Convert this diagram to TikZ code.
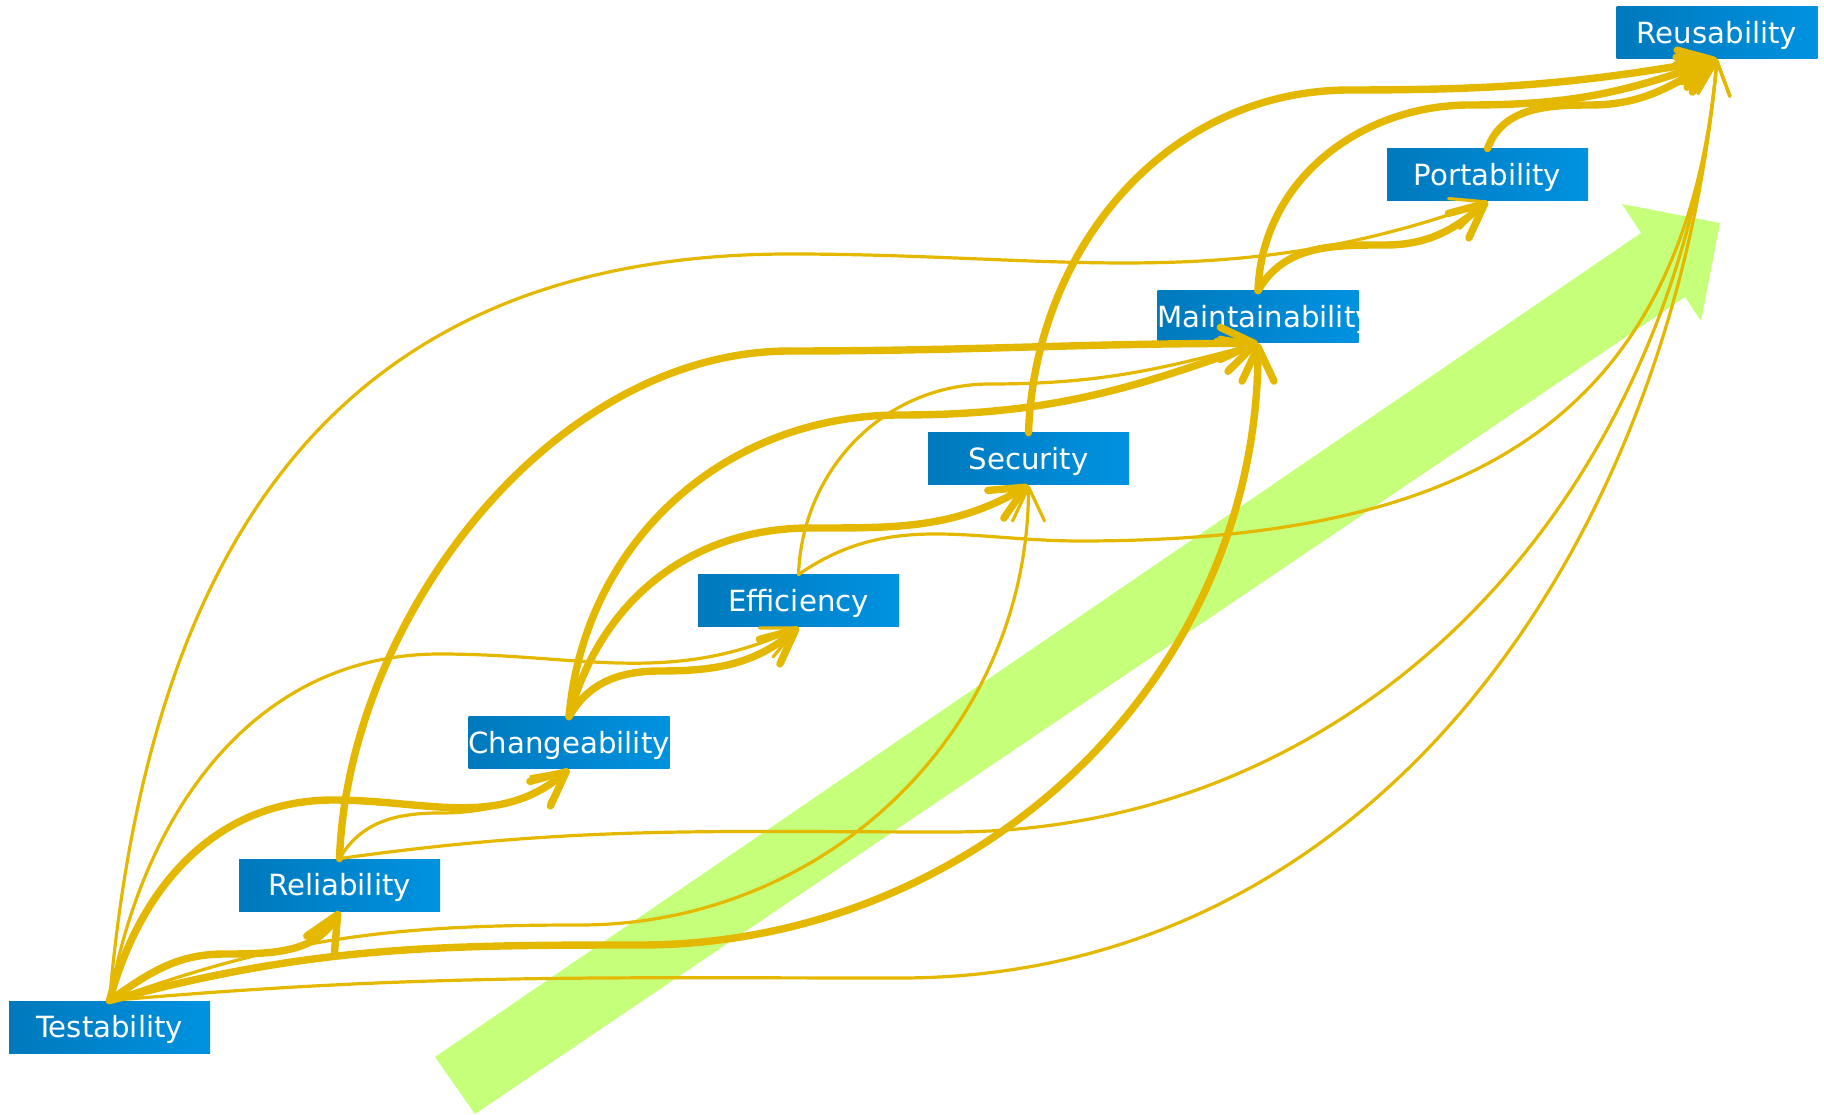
\documentclass[tikz,border=0pt]{standalone}
\usepackage{fontspec}
\setmainfont{DejaVu Sans}
\usetikzlibrary{arrows.meta}
\definecolor{qualdark}{RGB}{0, 121, 189}
\definecolor{quallight}{RGB}{0, 146, 224}
\definecolor{depend}{RGB}{229, 184, 0}
\definecolor{trend}{RGB}{198, 255, 122}

\begin{document}
\begin{tikzpicture}[
  x=0.5pt, y=0.5pt,
  font=\fontsize{14.6}{16}\selectfont,
  quality/.style={rectangle, left color=qualdark, right color=quallight, text=white, minimum width=100.5pt, minimum height=26pt, inner sep=0pt, text width=100.5pt, align=center, text height=10.6pt, text depth=0pt},
  weak/.style={draw=depend, line width=1.6pt, line cap=round, -{Straight Barb[length=17pt, width=16pt, round]}},
  strong/.style={weak, line width=3.7pt},
]
  \useasboundingbox (0,0) rectangle (1824,1114);

  % Overall direction
  \fill[trend] (435,57) -- (1641,881) -- (1622,910) -- (1720,891) -- (1701,793) -- (1685,817) -- (475,0) -- cycle;

  % Quality attributes
  \node[quality] (test) at (109.5,87) {Testability};
  \node[quality] (rel) at (339.5,229) {Reliability};
  \node[quality] (change) at (569,371) {Changeability};
  \node[quality] (eff) at (798.5,513) {Efficiency};
  \node[quality] (sec) at (1028.5,655) {Security};
  \node[quality] (maint) at (1258,797) {Maintainability};
  \node[quality] (port) at (1487.5,939) {Portability};
  \node[quality] (reuse) at (1717,1081) {Reusability};

  % From Testability
  \draw[strong] (test.north) to[out=35,in=180] (225,160) to[out=0,in=240] (rel.south);
  \draw[strong] (test.north) to[out=75,in=180] (333,314) to[out=0,in=220] (change.south);
  \draw[weak] (test.north) to[out=80,in=180] (440,460) to[out=0,in=205] (eff.south);
  \draw[weak] (test.north) to[out=85,in=180,looseness=1.15] (790,860) to[out=0,in=200] (port.south);
  \draw[weak] (test.north) to[out=20,in=180] (580,189) to[out=0,in=270] (sec.south);
  \draw[strong] (test.north) to[out=15,in=180] (640,169) to[out=0,in=270] (maint.south);
  \draw[weak] (test.north) to[out=5,in=180] (900,136) to[out=0,in=265] (reuse.south);

  % From Reliability
  \draw[weak] (rel.north) to[out=60,in=180] (440,301) to[out=0,in=215] (change.south);
  \draw[strong] (rel.north) to[out=88,in=180,looseness=0.9] (790,763) to[out=0,in=180] (maint.south);
  \draw[weak] (rel.north) to[out=8,in=180] (950,282) to[out=0,in=265] (reuse.south);

  % From Changeability
  \draw[strong] (change.north) to[out=60,in=180] (660,443) to[out=0,in=220] (eff.south);
  \draw[strong] (change.north) to[out=75,in=180] (810,586) to[out=0,in=210] (sec.south);
  \draw[strong] (change.north) to[out=85,in=180] (900,699) to[out=0,in=200] (maint.south);

  % From Efficiency
  \draw[weak] (eff.north) to[out=88,in=180] (990,730) to[out=0,in=195] (maint.south);
  \draw[weak] (eff.north) to[out=35,in=180] (1080,573) to[out=0,in=265,looseness=1.2] (reuse.south);

  % Upper levels
  \draw[strong] (sec.north) to[out=88,in=180] (1350,1024) to[out=0,in=190] (reuse.south);
  \draw[strong] (maint.north) to[out=60,in=180] (1385,869) to[out=0,in=220] (port.south);
  \draw[strong] (maint.north) to[out=88,in=180] (1470,1009) to[out=0,in=200] (reuse.south);
  \draw[strong] (port.north) to[out=70,in=180] (1590,1009) to[out=0,in=210] (reuse.south);

\end{tikzpicture}
\end{document}
